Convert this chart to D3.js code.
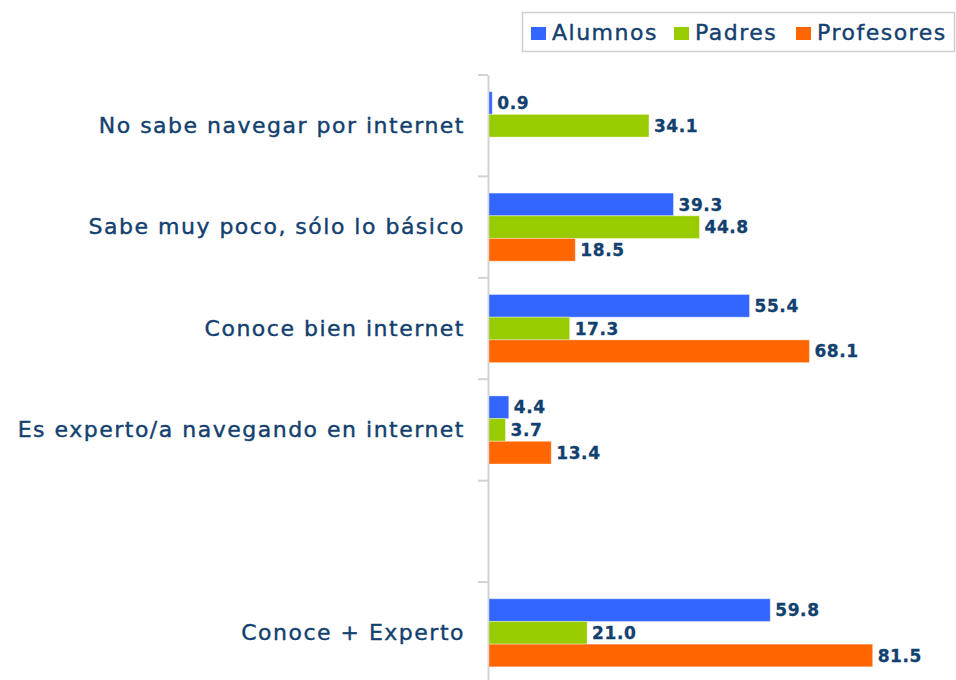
<!DOCTYPE html>
<html>
<head>
<meta charset="utf-8">
<script src="https://cdn.jsdelivr.net/npm/d3@7"></script>
<style>
  body { margin: 0; background: #fff; }
  svg { display: block; }
  .catLabel { font-family: "DejaVu Sans", Verdana, sans-serif; font-size: 22px; letter-spacing: 1.5px; fill: #12406f; stroke: #12406f; stroke-width: 0.4px; }
  .legendText { font-family: "DejaVu Sans", Verdana, sans-serif; font-size: 22px; letter-spacing: 1.5px; fill: #12406f; stroke: #12406f; stroke-width: 0.4px; }
  .valLabel { font-family: "DejaVu Sans", Verdana, sans-serif; font-size: 17px; font-weight: bold; letter-spacing: 0.6px; fill: #12406f; stroke: #12406f; stroke-width: 0.3px; }
</style>
</head>
<body>
<script>
(function () {

    //chart data
    var categories = [
        "No sabe navegar por internet",
        "Sabe muy poco, sólo lo básico",
        "Conoce bien internet",
        "Es experto/a navegando en internet",
        "",
        "Conoce + Experto"
    ];
    var seriesNames = ["Alumnos", "Padres", "Profesores"];
    var alumnos = [0.9, 39.3, 55.4, 4.4, null, 59.8];
    var padres = [34.1, 44.8, 17.3, 3.7, null, 21.0];
    var profesores = [null, 18.5, 68.1, 13.4, null, 81.5];
    var colors = ["#3366ff", "#99cc00", "#ff6600"];

    var width = 956,
        height = 680,
        axisX = 488;

    var svg = d3.select("body")
        .append("svg")
        .attr("width", width)
        .attr("height", height);

    //category bands (index keys so the blank category stays unique)
    var y = d3.scaleBand()
        .domain(d3.range(categories.length))
        .range([75, 683.5]);

    var ySub = d3.scaleBand()
        .domain(seriesNames)
        .range([0, y.bandwidth()])
        .paddingOuter(0.735);

    var x = d3.scaleLinear()
        .domain([0, 100])
        .range([axisX, 960]);

    //build rows for the bars
    var values = [alumnos, padres, profesores];
    var rows = [];
    categories.forEach(function (c, i) {
        seriesNames.forEach(function (s, j) {
            var v = values[j][i];
            if (v !== null) rows.push({cat: i, series: s, color: colors[j], value: v});
        });
    });

    //axis: vertical line with category labels
    var yAxis = d3.axisLeft(y)
        .tickSize(0)
        .tickSizeOuter(0)
        .tickPadding(23)
        .tickFormat(function (i) { return categories[i]; });

    var axis = svg.append("g")
        .attr("transform", "translate(" + axisX + ",0)")
        .call(yAxis);

    axis.select(".domain")
        .attr("stroke", "#d2d2d2")
        .attr("stroke-width", 2);

    axis.selectAll(".tick text")
        .attr("class", "catLabel")
        .attr("fill", null)
        .attr("font-family", null)
        .attr("font-size", null);

    //boundary tick marks between categories
    svg.selectAll(".boundTick")
        .data(d3.range(categories.length))
        .enter()
        .append("line")
        .attr("class", "boundTick")
        .attr("x1", axisX - 10)
        .attr("x2", axisX)
        .attr("y1", function (i) { return y(i); })
        .attr("y2", function (i) { return y(i); })
        .attr("stroke", "#d2d2d2")
        .attr("stroke-width", 2);

    //bars
    svg.selectAll(".bar")
        .data(rows)
        .enter()
        .append("rect")
        .attr("class", "bar")
        .attr("x", x(0) + 1)
        .attr("y", function (d) { return y(d.cat) + ySub(d.series); })
        .attr("width", function (d) { return x(d.value) - x(0) - 1; })
        .attr("height", ySub.bandwidth())
        .attr("fill", function (d) { return d.color; })
        .attr("stroke", "rgba(255,255,255,0.35)")
        .attr("stroke-width", 1);

    //value labels
    svg.selectAll(".valLabel")
        .data(rows)
        .enter()
        .append("text")
        .attr("class", "valLabel")
        .attr("x", function (d) { return x(d.value) + 5; })
        .attr("y", function (d) { return y(d.cat) + ySub(d.series) + ySub.bandwidth() / 2; })
        .attr("dy", "0.36em")
        .text(function (d) { return d3.format(".1f")(d.value); });

    //legend
    var legend = svg.append("g").attr("class", "legend");
    legend.append("rect")
        .attr("x", 522.5)
        .attr("y", 12.5)
        .attr("width", 432)
        .attr("height", 39)
        .attr("fill", "#fff")
        .attr("stroke", "#cfcfcf")
        .attr("stroke-width", 1.5);

    var legendX = [531, 674, 796];
    var items = legend.selectAll(".legendItem")
        .data(seriesNames)
        .enter()
        .append("g")
        .attr("class", "legendItem")
        .attr("transform", function (d, i) { return "translate(" + legendX[i] + ",0)"; });

    items.append("rect")
        .attr("x", 0)
        .attr("y", 27)
        .attr("width", 15)
        .attr("height", 13)
        .attr("fill", function (d, i) { return colors[i]; });

    items.append("text")
        .attr("class", "legendText")
        .attr("x", 21)
        .attr("y", 40)
        .text(function (d) { return d; });

})();
</script>
</body>
</html>
